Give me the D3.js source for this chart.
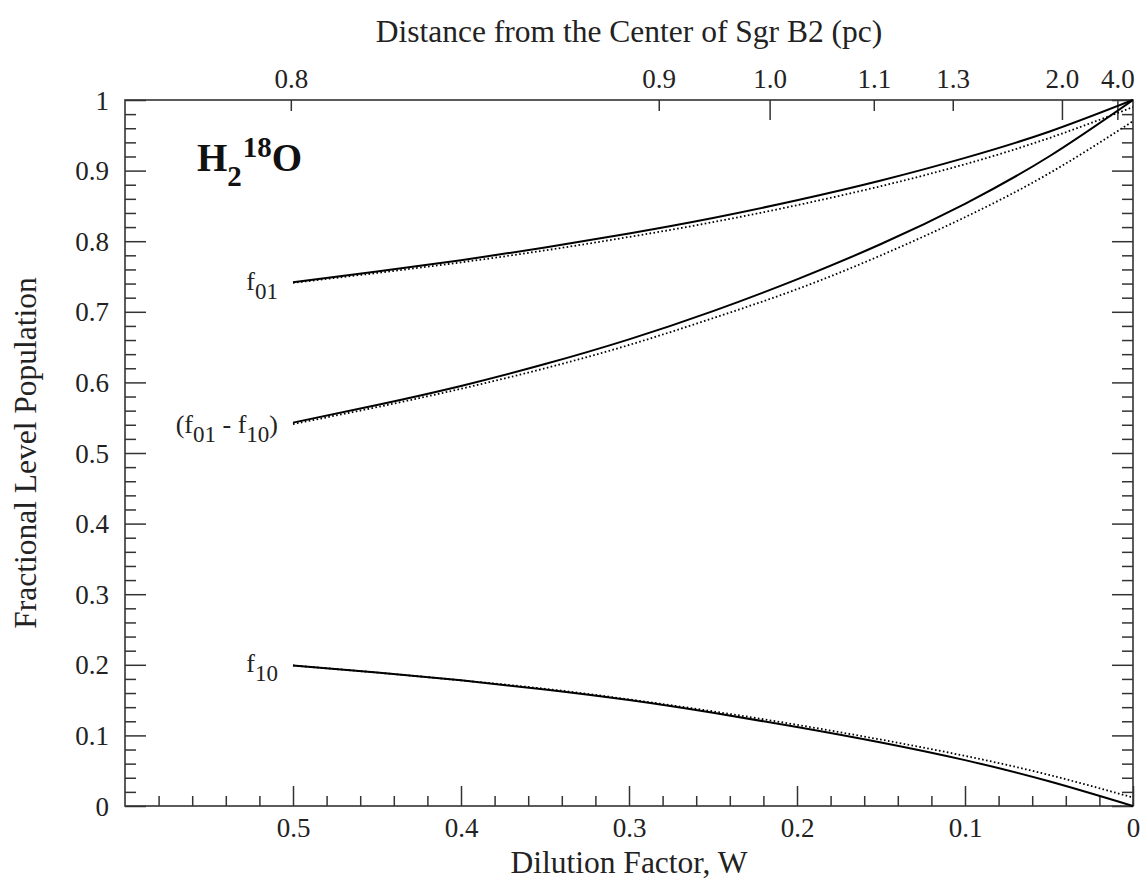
<!DOCTYPE html>
<html>
<head>
<meta charset="utf-8">
<script src="https://cdn.jsdelivr.net/npm/d3@7"></script>
<style>
  html, body { margin: 0; padding: 0; background: #fff; }
  svg { display: block; }
  svg text { font-family: "Liberation Serif", "DejaVu Serif", serif; fill: #222; }
</style>
</head>
<body>
<svg id="chart" width="1140" height="888"></svg>
<script>
// ---- Data ----
const dilutionW = [0.5, 0.45, 0.4, 0.35, 0.3, 0.25, 0.2, 0.15, 0.1, 0.05, 0.0];
const f01Solid  = [0.742, 0.757, 0.773, 0.791, 0.811, 0.833, 0.858, 0.886, 0.918, 0.955, 1.000];
const f01Dotted = [0.741, 0.755, 0.770, 0.787, 0.806, 0.827, 0.851, 0.878, 0.909, 0.946, 0.990];
const diffSolid = [0.543, 0.568, 0.595, 0.626, 0.661, 0.701, 0.746, 0.796, 0.853, 0.920, 1.000];
const diffDotted= [0.541, 0.565, 0.591, 0.620, 0.653, 0.691, 0.732, 0.780, 0.834, 0.896, 0.970];
const f10Solid  = [0.199, 0.189, 0.178, 0.165, 0.150, 0.132, 0.112, 0.090, 0.065, 0.035, 0.000];
const f10Dotted = [0.199, 0.189, 0.178, 0.166, 0.151, 0.134, 0.115, 0.094, 0.071, 0.044, 0.012];

// top axis: distance from center of Sgr B2 (pc), placed at the dilution factor W it corresponds to
const distanceLabels = ["0.8", "0.9", "1.0", "1.1", "1.3", "2.0", "4.0"];
const distanceAtW    = [0.501, 0.282, 0.216, 0.154, 0.107, 0.042, 0.009];
const distanceMajor  = [false, false, true, false, false, true, true];

const xTickValues = [0.5, 0.4, 0.3, 0.2, 0.1, 0];
const yTickValues = [0, 0.1, 0.2, 0.3, 0.4, 0.5, 0.6, 0.7, 0.8, 0.9, 1];

(function () {
const svg = d3.select("#chart");
const mLeft = 125, mRight = 1133, mTop = 100, mBottom = 806;
const x = d3.scaleLinear().domain([0.6, 0]).range([mLeft, mRight]);
const y = d3.scaleLinear().domain([0, 1]).range([mBottom, mTop]);
const axisColor = "#333";
const tickFont = 27;
const titleFont = 31.5;
const serif = '"Liberation Serif", "DejaVu Serif", serif';

const fmtY = d => (d === 0 || d === 1) ? String(d) : d.toFixed(1);
const fmtX = d => d === 0 ? "0" : d.toFixed(1);

const xMinor = d3.range(1, 30).map(i => +(i * 0.02).toFixed(2)).filter(v => Math.abs(v * 10 - Math.round(v * 10)) > 1e-6);
const yMinor = d3.range(1, 50).map(i => +(i * 0.02).toFixed(2)).filter(v => Math.abs(v * 10 - Math.round(v * 10)) > 1e-6);

function styleAxis(g) {
  g.attr("font-family", serif).attr("font-size", tickFont);
  g.select(".domain").remove();
  g.selectAll(".tick line").attr("stroke", axisColor).attr("stroke-width", 1.5);
  g.selectAll(".tick text").attr("fill", "#222");
}

svg.append("g").attr("transform", `translate(0,${mBottom})`)
  .call(d3.axisBottom(x).tickValues(xTickValues).tickFormat(fmtX).tickSizeInner(-20).tickSizeOuter(0).tickPadding(12))
  .call(styleAxis);
svg.append("g").attr("transform", `translate(0,${mBottom})`)
  .call(d3.axisBottom(x).tickValues(xMinor).tickFormat("").tickSizeInner(-10).tickSizeOuter(0))
  .call(styleAxis);

svg.append("g").attr("transform", `translate(${mLeft},0)`)
  .call(d3.axisLeft(y).tickValues(yTickValues).tickFormat(fmtY).tickSizeInner(-21).tickSizeOuter(0).tickPadding(16))
  .call(styleAxis)
  .call(g => g.selectAll(".tick text").attr("dy", "0.34em"));
svg.append("g").attr("transform", `translate(${mLeft},0)`)
  .call(d3.axisLeft(y).tickValues(yMinor).tickFormat("").tickSizeInner(-11).tickSizeOuter(0))
  .call(styleAxis);

svg.append("g").attr("transform", `translate(${mRight},0)`)
  .call(d3.axisRight(y).tickValues(yTickValues).tickFormat("").tickSizeInner(-21).tickSizeOuter(0))
  .call(styleAxis);
svg.append("g").attr("transform", `translate(${mRight},0)`)
  .call(d3.axisRight(y).tickValues(yMinor).tickFormat("").tickSizeInner(-11).tickSizeOuter(0))
  .call(styleAxis);

const topG = svg.append("g").attr("transform", `translate(0,${mTop})`);
const topData = distanceAtW.map((w, i) => ({w, major: distanceMajor[i], label: distanceLabels[i]}));
topG.selectAll("line.dt").data(topData)
  .join("line").attr("class", "dt")
  .attr("x1", d => x(d.w)).attr("x2", d => x(d.w))
  .attr("y1", 0).attr("y2", d => d.major ? 20 : 11)
  .attr("stroke", axisColor).attr("stroke-width", 1.5);
topG.selectAll("text.dt").data(topData)
  .join("text").attr("class", "dt")
  .attr("x", d => x(d.w)).attr("y", -12)
  .attr("text-anchor", "middle").attr("font-size", tickFont)
  .text(d => d.label);

svg.append("rect").attr("x", mLeft).attr("y", mTop).attr("width", mRight - mLeft).attr("height", mBottom - mTop)
  .attr("fill", "none").attr("stroke", axisColor).attr("stroke-width", 1.6);

const line = d3.line().x(d => x(d[0])).y(d => y(d[1])).curve(d3.curveNatural);
const series = [
  {v: f01Solid, dotted: false}, {v: f01Dotted, dotted: true},
  {v: diffSolid, dotted: false}, {v: diffDotted, dotted: true},
  {v: f10Solid, dotted: false}, {v: f10Dotted, dotted: true}
];
svg.append("clipPath").attr("id", "plotclip").append("rect")
  .attr("x", mLeft).attr("y", mTop - 1).attr("width", mRight - mLeft).attr("height", mBottom - mTop + 2);
svg.append("g").attr("clip-path", "url(#plotclip)")
  .selectAll("path").data(series).join("path")
  .attr("d", s => line(dilutionW.map((w, i) => [w, s.v[i]])))
  .attr("fill", "none").attr("stroke", "#000")
  .attr("stroke-width", s => s.dotted ? 1.8 : 2)
  .attr("stroke-dasharray", s => s.dotted ? "1.6,2.4" : null);

function subLabel(parts, xEnd, yBase) {
  const t = svg.append("text").attr("x", xEnd).attr("y", yBase).attr("text-anchor", "end").attr("font-size", 26);
  parts.forEach(p => {
    const ts = t.append("tspan").text(p.t);
    if (p.sub) ts.attr("font-size", 23).attr("dy", 9);
    else if (p.back) ts.attr("dy", -9);
  });
  return t;
}
const labelX = x(0.5) - 15;
subLabel([{t: "f"}, {t: "01", sub: true}], labelX, y(f01Solid[0]) + 8);
subLabel([{t: "(f"}, {t: "01", sub: true}, {t: " - f", back: true}, {t: "10", sub: true}, {t: ")", back: true}], labelX, y(diffSolid[0]) + 10);
subLabel([{t: "f"}, {t: "10", sub: true}], labelX, y(f10Solid[0]) + 6);

const mol = svg.append("text").attr("x", 197).attr("y", 171)
  .attr("font-size", 39).attr("font-weight", "bold").style("fill", "#111");
mol.append("tspan").text("H");
mol.append("tspan").text("2").attr("font-size", 29).attr("dy", 15);
mol.append("tspan").text("18").attr("font-size", 29).attr("dy", -29).attr("dx", 1);
mol.append("tspan").text("O").attr("dy", 14);

svg.append("text").attr("x", (mLeft + mRight) / 2).attr("y", 873).attr("text-anchor", "middle")
  .attr("font-size", titleFont).text("Dilution Factor, W");
svg.append("text").attr("x", (mLeft + mRight) / 2).attr("y", 42).attr("text-anchor", "middle")
  .attr("font-size", titleFont).text("Distance from the Center of Sgr B2 (pc)");
svg.append("text").attr("transform", `translate(36,${(mTop + mBottom) / 2}) rotate(-90)`)
  .attr("text-anchor", "middle").attr("font-size", titleFont).text("Fractional Level Population");
})();
</script>
</body>
</html>
